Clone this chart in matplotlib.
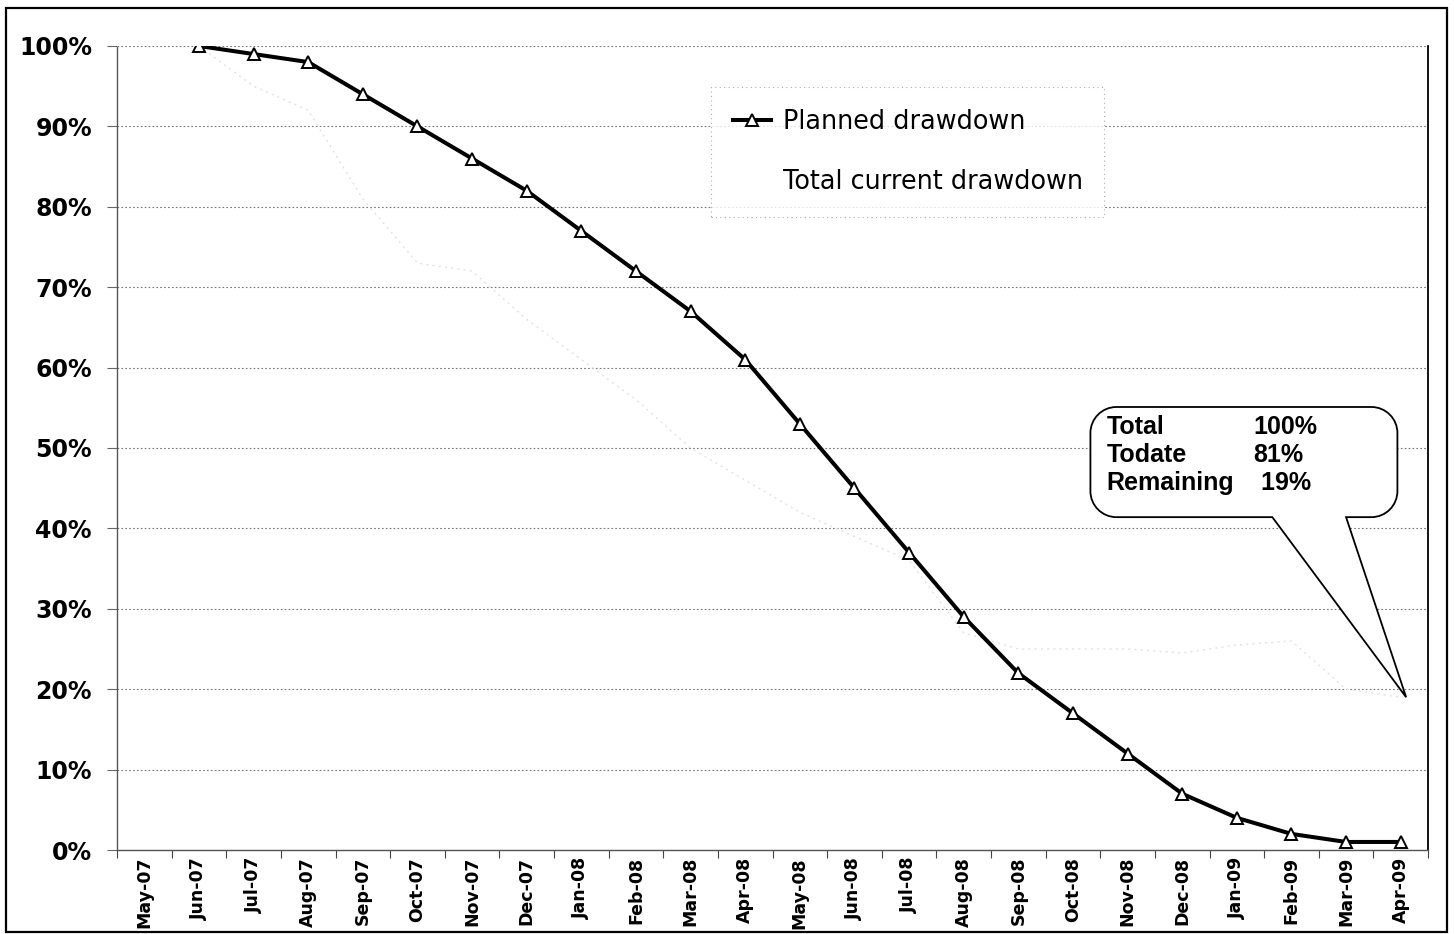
import matplotlib
matplotlib.use("Agg")
import matplotlib.pyplot as plt
import numpy as np
from matplotlib import font_manager
from matplotlib.font_manager import FontProperties
from matplotlib.path import Path
from matplotlib.patches import PathPatch, Rectangle
from matplotlib.ticker import FixedLocator, FuncFormatter

# ---- data -------------------------------------------------------------
months = ["May-07", "Jun-07", "Jul-07", "Aug-07", "Sep-07", "Oct-07", "Nov-07",
          "Dec-07", "Jan-08", "Feb-08", "Mar-08", "Apr-08", "May-08", "Jun-08",
          "Jul-08", "Aug-08", "Sep-08", "Oct-08", "Nov-08", "Dec-08", "Jan-09",
          "Feb-09", "Mar-09", "Apr-09"]

# planned drawdown (%), no value for May-07
planned = [np.nan, 100, 99, 98, 94, 90, 86, 82, 77, 72, 67, 61, 53, 45,
           37, 29, 22, 17, 12, 7, 4, 2, 1, 1]

# total current drawdown (%), printed very light
current = [np.nan, 100, 95, 92, 81, 73, 72, 66, 61, 56, 50, 46, 42, 39,
           36, 27, 25, 25, 25, 24.5, 25.5, 26, 20, 19]

summary_labels = ["Total", "Todate", "Remaining"]
summary_values = ["100%", "81%", " 19%"]
y_ticks = [0, 10, 20, 30, 40, 50, 60, 70, 80, 90, 100]


def font_file(stem, fallback_family, weight):
    """Pick an exact font file (avoids condensed/narrow variants)."""
    for f in font_manager.fontManager.ttflist:
        if f.fname.split("/")[-1] == stem:
            return FontProperties(fname=f.fname)
    return FontProperties(family=fallback_family, weight=weight)


def sized(fp, size):
    p = fp.copy()
    p.set_size(size)
    return p


dv_bold = font_file("DejaVuSans-Bold.ttf", "DejaVu Sans", "bold")
dv_reg = font_file("DejaVuSans.ttf", "DejaVu Sans", "normal")
lib_bold = font_file("LiberationSans-Bold.ttf", "Liberation Sans", "bold")

# ---- figure -----------------------------------------------------------
W, H, DPI = 1454, 934, 100
fig = plt.figure(figsize=(W / DPI, H / DPI), dpi=DPI)
fig.patch.set_facecolor("white")

ax = fig.add_axes([117 / W, 1 - 850 / H, (1428 - 117) / W, (850 - 46) / H])
x = np.arange(len(months))

ax.plot(x, current, color="#e2e2e2", lw=1.0, ls=(0, (1.5, 3)),
        label="Total current drawdown", zorder=2)
ax.plot(x, planned, color="black", lw=2.9, marker="^", markersize=8,
        markerfacecolor="white", markeredgecolor="black", markeredgewidth=1.4,
        label="Planned drawdown", zorder=3)

ax.set_xlim(-0.5, len(months) - 0.5)
ax.set_ylim(0, 100)

# category labels at centres, tick marks at category boundaries
ax.set_xticks(x)
ax.set_xticklabels(months, rotation=90, fontproperties=sized(dv_bold, 12.5))
ax.xaxis.set_minor_locator(FixedLocator(np.arange(-0.5, len(months), 1.0)))
ax.tick_params(axis="x", which="major", length=0, pad=5)
ax.tick_params(axis="x", which="minor", length=6, width=0.8, color="#444444",
               direction="out")

ax.set_yticks(y_ticks)
ax.yaxis.set_major_formatter(FuncFormatter(lambda v, p: f"{v:.0f}%"))
ax.tick_params(axis="y", length=7, width=0.8, color="#666666", pad=11)
for lab in ax.get_yticklabels():
    lab.set_fontproperties(sized(dv_bold, 17))

ax.grid(axis="y", color="#777777", ls=(0, (1.5, 2)), lw=0.8)
ax.set_axisbelow(True)

for side in ("left", "bottom"):
    ax.spines[side].set_color("#555555")
    ax.spines[side].set_linestyle((0, (2, 1)))
    ax.spines[side].set_linewidth(1.0)
ax.spines["top"].set_visible(False)
ax.spines["right"].set_color("black")
ax.spines["right"].set_linewidth(1.3)

# ---- legend -----------------------------------------------------------
handles, labels = ax.get_legend_handles_labels()
order = [1, 0]
leg = ax.legend([handles[i] for i in order], [labels[i] for i in order],
                loc="upper left", bbox_to_anchor=((711 - 117) / (1428 - 117),
                                                  1 - (87 - 46) / (850 - 46)),
                prop=sized(dv_reg, 18.4), frameon=True, fancybox=False,
                labelspacing=1.35, handlelength=1.5, handletextpad=0.45,
                borderpad=0.85, borderaxespad=0)
leg.get_frame().set_edgecolor("#999999")
leg.get_frame().set_linestyle((0, (1, 3)))
leg.get_frame().set_linewidth(0.8)
leg.legend_handles[1].set_visible(False)

# ---- callout ----------------------------------------------------------
# box in data units; corner radius converted so it looks round on screen
px_x = (1428 - 117) / len(months)       # pixels per category
px_y = (850 - 46) / 100.0               # pixels per percent
bx0, bx1 = 17.32, 22.94
by0, by1 = 41.4, 55.1
r = 26
rx, ry = r / px_x, r / px_y
tip = (x[-1] + 0.1, current[-1])
base_l, base_r = 20.65, 22.0

k = 0.5523
verts = [
    (bx0 + rx, by1), (bx1 - rx, by1),
    (bx1 - rx + k * rx, by1), (bx1, by1 - ry + k * ry), (bx1, by1 - ry),
    (bx1, by0 + ry),
    (bx1, by0 + ry - k * ry), (bx1 - rx + k * rx, by0), (bx1 - rx, by0),
    (base_r, by0), tip, (base_l, by0),
    (bx0 + rx, by0),
    (bx0 + rx - k * rx, by0), (bx0, by0 + ry - k * ry), (bx0, by0 + ry),
    (bx0, by1 - ry),
    (bx0, by1 - ry + k * ry), (bx0 + rx - k * rx, by1), (bx0 + rx, by1),
]
codes = [Path.MOVETO, Path.LINETO,
         Path.CURVE4, Path.CURVE4, Path.CURVE4,
         Path.LINETO,
         Path.CURVE4, Path.CURVE4, Path.CURVE4,
         Path.LINETO, Path.LINETO, Path.LINETO,
         Path.LINETO,
         Path.CURVE4, Path.CURVE4, Path.CURVE4,
         Path.LINETO,
         Path.CURVE4, Path.CURVE4, Path.CURVE4]
ax.add_patch(PathPatch(Path(verts, codes), facecolor="white",
                       edgecolor="black", lw=1.3, zorder=5, clip_on=False))

row_y0 = 52.6
row_dy = 28 / px_y
for i, (lab, val) in enumerate(zip(summary_labels, summary_values)):
    yy = row_y0 - i * row_dy
    ax.text(17.62, yy, lab, fontproperties=sized(lib_bold, 18),
            va="center", ha="left", zorder=6)
    ax.text(20.31, yy, val, fontproperties=sized(lib_bold, 18),
            va="center", ha="left", zorder=6)

# outer border of the chart area
fig.patches.append(Rectangle((6 / W, 0.002), (1447 - 6) / W, 1 - 8 / H - 0.002,
                             transform=fig.transFigure, fill=False,
                             edgecolor="black", lw=1.6))

fig.savefig("out.png", dpi=DPI, facecolor="white")
